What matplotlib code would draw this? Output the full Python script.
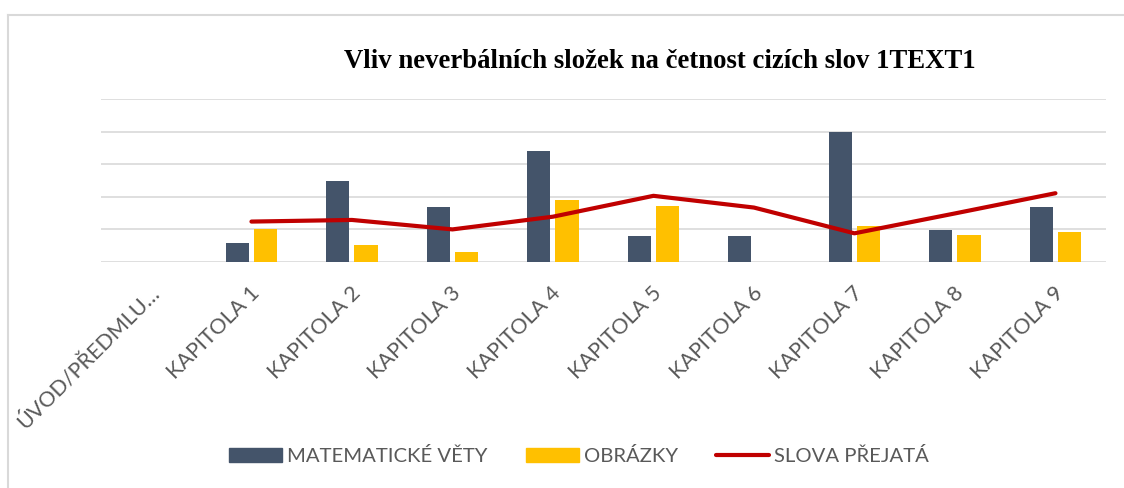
import matplotlib
matplotlib.use('Agg')
import matplotlib.pyplot as plt
import matplotlib.transforms as mtransforms
from matplotlib.lines import Line2D
from matplotlib.patches import Patch
import numpy as np

# data (in gridline units)
kategorie = ['ÚVOD/PŘEDMLU…', 'KAPITOLA 1', 'KAPITOLA 2', 'KAPITOLA 3', 'KAPITOLA 4',
             'KAPITOLA 5', 'KAPITOLA 6', 'KAPITOLA 7', 'KAPITOLA 8', 'KAPITOLA 9']
mat_vety = [0, 0.58, 2.49, 1.69, 3.39, 0.79, 0.79, 3.99, 0.98, 1.69]
obrazky = [0, 1.01, 0.52, 0.32, 1.91, 1.72, 0, 1.10, 0.82, 0.92]
slova = [np.nan, 1.24, 1.29, 1.00, 1.39, 2.03, 1.67, 0.88, 1.49, 2.11]

tmava = '#44546a'
zluta = '#ffc000'
cervena = '#c00000'
seda = '#595959'
mrizka = '#d9d9d9'

fig = plt.figure(figsize=(11.24, 4.88), dpi=100)
ax = fig.add_axes([100.7/1124, 1-262/488, 1005/1124, 163/488])

x = np.arange(len(kategorie))
w = 0.23
ax.bar(x - 0.14, mat_vety, w, color=tmava, zorder=2)
ax.bar(x + 0.14, obrazky, w, color=zluta, zorder=2)
ax.plot(x, slova, color=cervena, lw=3, solid_capstyle='round', solid_joinstyle='round', zorder=3)

ax.set_xlim(-0.5, 9.5)
ax.set_ylim(0, 5)
ax.set_yticks(range(6))
ax.set_yticklabels([])
ax.grid(axis='y', color=mrizka, lw=1.2, zorder=0)
ax.tick_params(length=0)
for s in ax.spines.values():
    s.set_visible(False)

ax.set_xticks(x)
ax.set_xticklabels(kategorie, rotation=45, ha='right', va='top', rotation_mode='anchor',
                   family=['Lato', 'DejaVu Sans'], fontsize=15.5, color=seda)
posun = mtransforms.ScaledTranslation(-2/100, -16/100, fig.dpi_scale_trans)
for lab in ax.get_xticklabels():
    lab.set_transform(lab.get_transform() + posun)

fig.text(660/1124, 1-62/488, 'Vliv neverbálních složek na četnost cizích slov 1TEXT1',
         family='Liberation Serif', weight='bold', fontsize=19.3, ha='center', va='center')

handles = [Patch(color=tmava), Patch(color=zluta),
           Line2D([], [], color=cervena, lw=3, solid_capstyle='round')]
fig.legend(handles, ['MATEMATICKÉ VĚTY', 'OBRÁZKY', 'SLOVA PŘEJATÁ'], loc='center',
           bbox_to_anchor=(579/1124, 1-456/488), ncol=3, frameon=False,
           prop={'family': 'Lato', 'size': 14.6}, labelcolor=seda,
           handlelength=2.6, handleheight=0.7, handletextpad=0.25, columnspacing=1.9)

# ramecek grafu (jen horni a leva hrana jsou videt)
fig.add_artist(Line2D([7.5/1124, 1.01], [1-14.5/488, 1-14.5/488], color=mrizka, lw=1.5))
fig.add_artist(Line2D([7.5/1124, 7.5/1124], [1-14.5/488, -0.01], color=mrizka, lw=1.5))

fig.savefig('out.png', dpi=100)
